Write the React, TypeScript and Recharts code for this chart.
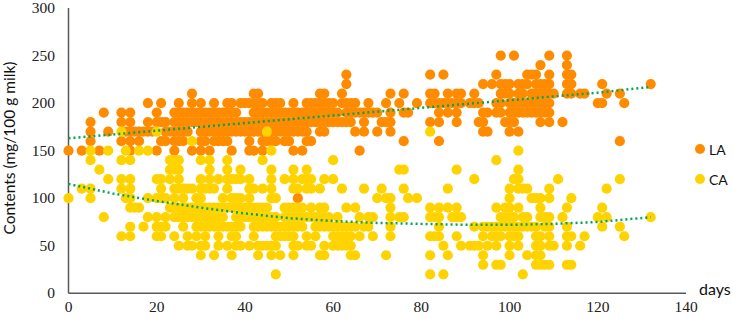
import { ScatterChart, Scatter, XAxis, YAxis, Label } from 'recharts';

const xTicks = [0, 20, 40, 60, 80, 100, 120, 140];
const yTicks = [0, 50, 100, 150, 200, 250, 300];

// LA: days seen at each contents level
const la100 = [52];
const la150 = [0, 3, 7, 14, 20, 24, 28, 30, 32, 37, 41, 42, 44, 51, 53, 66];
const la160 = [5, 12, 14, 16, 21, 22, 24, 25, 26, 30, 31, 33, 34, 35, 36, 41, 44, 45, 46, 47, 49, 50, 54, 55, 76, 84, 125];
const la170 = [5, 9, 13, 14, 15, 16, 17, 18, 19, 22, 23, 24, 25, 26, 27, 30, 31, 32, 33, 34, 35, 36, 37, 38, 39, 40, 41, 42, 43, 44, 46, 47, 48, 49, 50, 51, 52, 53, 54, 57, 58, 65, 67, 70, 73, 94, 95, 100, 102];
const la180 = [5, 12, 14, 18, 20, 21, 22, 24, 25, 26, 27, 28, 29, 30, 31, 32, 33, 34, 35, 36, 37, 38, 39, 40, 41, 42, 43, 44, 45, 46, 47, 48, 49, 50, 51, 52, 53, 54, 55, 56, 57, 58, 59, 60, 61, 62, 63, 64, 67, 71, 72, 73, 82, 84, 88, 93, 94, 99, 100, 101, 107, 109, 112];
const la190 = [8, 12, 14, 20, 24, 25, 26, 27, 28, 29, 30, 31, 32, 33, 34, 35, 36, 37, 38, 42, 43, 44, 45, 46, 47, 48, 49, 50, 51, 52, 53, 54, 55, 56, 57, 58, 59, 60, 61, 63, 64, 65, 66, 67, 68, 69, 70, 73, 76, 77, 84, 86, 88, 94, 95, 97, 98, 100, 101, 102, 103, 104, 105, 106, 107, 108, 109];
const la200 = [18, 21, 25, 28, 30, 33, 36, 37, 39, 40, 41, 42, 43, 44, 46, 47, 48, 51, 54, 55, 56, 57, 58, 59, 60, 62, 63, 64, 65, 68, 72, 75, 79, 82, 83, 84, 85, 86, 87, 88, 89, 91, 92, 93, 97, 98, 100, 101, 102, 103, 104, 105, 106, 107, 108, 109, 120, 121, 126];
const la210 = [28, 42, 43, 57, 58, 62, 73, 76, 82, 83, 86, 88, 89, 92, 98, 99, 100, 102, 103, 105, 106, 107, 108, 109, 110, 113, 114, 116, 117, 122, 125];
const la220 = [63, 94, 96, 98, 99, 100, 102, 103, 104, 106, 107, 108, 109, 113, 114, 121, 132];
const la230 = [63, 82, 85, 97, 104, 105, 106, 109, 113, 114];
const la240 = [107, 113];
const la250 = [98, 101, 109, 113];

// CA: days seen at each contents level
const ca20 = [47, 82, 85, 103];
const ca30 = [94, 97, 98, 106, 107, 108, 109, 113, 114];
const ca40 = [30, 33, 37, 43, 46, 48, 51, 57, 58, 64, 65, 72, 82, 86, 94, 100, 104, 106, 107];
const ca50 = [25, 27, 28, 30, 31, 34, 36, 38, 39, 41, 43, 44, 45, 46, 47, 51, 52, 54, 55, 58, 60, 61, 62, 63, 64, 85, 89, 91, 92, 93, 95, 97, 100, 102, 106, 107, 109, 110, 113, 116];
const ca60 = [12, 14, 20, 21, 24, 27, 29, 31, 34, 37, 38, 42, 47, 48, 49, 50, 51, 54, 56, 60, 61, 62, 63, 64, 66, 69, 73, 82, 83, 84, 88, 94, 96, 97, 98, 100, 101, 102, 106, 107, 109, 113, 114, 117, 126];
const ca70 = [14, 17, 20, 21, 22, 26, 29, 30, 31, 32, 33, 34, 35, 36, 37, 38, 39, 42, 43, 44, 45, 46, 47, 48, 49, 50, 51, 52, 53, 56, 57, 58, 59, 60, 61, 62, 63, 64, 65, 67, 68, 73, 84, 92, 94, 95, 96, 97, 98, 99, 100, 101, 102, 103, 104, 105, 106, 108, 109, 113, 121, 125];
const ca80 = [8, 18, 20, 22, 24, 25, 26, 27, 28, 29, 30, 31, 32, 33, 34, 35, 38, 39, 40, 41, 42, 43, 44, 45, 46, 47, 49, 50, 51, 52, 53, 54, 55, 56, 57, 58, 59, 61, 66, 68, 69, 73, 75, 76, 82, 83, 84, 87, 88, 89, 98, 99, 100, 101, 103, 104, 107, 108, 109, 112, 120, 122, 132];
const ca90 = [14, 15, 16, 23, 24, 25, 26, 27, 28, 29, 30, 31, 32, 33, 34, 35, 36, 37, 38, 39, 40, 41, 42, 43, 44, 45, 49, 50, 51, 52, 53, 55, 57, 58, 63, 65, 73, 82, 84, 86, 88, 97, 99, 100, 102, 107, 113, 121];
const ca100 = [0, 5, 13, 14, 18, 20, 21, 22, 24, 26, 29, 30, 35, 37, 38, 39, 41, 46, 47, 70, 72, 73, 77, 79, 100, 105, 106, 107, 109, 114];
const ca110 = [3, 5, 12, 14, 21, 24, 25, 26, 27, 28, 30, 31, 32, 33, 36, 41, 42, 44, 46, 51, 52, 54, 55, 57, 62, 67, 71, 76, 86, 100, 102, 103, 104, 109, 122];
const ca120 = [9, 12, 14, 20, 21, 23, 25, 30, 32, 34, 36, 37, 38, 39, 41, 46, 49, 51, 53, 54, 55, 58, 60, 92, 101, 102, 111, 125];
const ca130 = [7, 23, 24, 25, 32, 36, 39, 46, 51, 54, 75, 76, 88, 102];
const ca140 = [5, 12, 14, 23, 24, 25, 30, 32, 36, 44, 60, 97];
const ca150 = [5, 9, 13, 16, 18, 46, 102];
const ca160 = [28];
const ca170 = [12, 20, 45, 82];

// dotted polynomial trend lines, read at a few days
const trendDays = [0, 10, 20, 30, 40, 50, 60, 70, 80, 90, 100, 110, 120, 132];
const laTrend = [163, 167, 171, 175, 179, 183, 187, 191, 195, 199, 203, 207, 211, 217];
const caTrend = [115, 105, 97, 90, 84, 79, 76, 74, 73, 72, 72, 73, 75, 80];

const LA_COLOR = '#FF8C00';
const CA_COLOR = '#FFD300';
const TREND_COLOR = '#00A651';
const AXIS_COLOR = '#595959';

const toPoints = (value: number, days: number[]) => days.map((day) => ({ day, value }));

const laData = [
  ...toPoints(100, la100), ...toPoints(150, la150), ...toPoints(160, la160), ...toPoints(170, la170),
  ...toPoints(180, la180), ...toPoints(190, la190), ...toPoints(200, la200), ...toPoints(210, la210),
  ...toPoints(220, la220), ...toPoints(230, la230), ...toPoints(240, la240), ...toPoints(250, la250),
];

const caData = [
  ...toPoints(20, ca20), ...toPoints(30, ca30), ...toPoints(40, ca40), ...toPoints(50, ca50),
  ...toPoints(60, ca60), ...toPoints(70, ca70), ...toPoints(80, ca80), ...toPoints(90, ca90),
  ...toPoints(100, ca100), ...toPoints(110, ca110), ...toPoints(120, ca120), ...toPoints(130, ca130),
  ...toPoints(140, ca140), ...toPoints(150, ca150), ...toPoints(160, ca160), ...toPoints(170, ca170),
];

const laTrendData = trendDays.map((day, i) => ({ day, value: laTrend[i] }));
const caTrendData = trendDays.map((day, i) => ({ day, value: caTrend[i] }));

const dot = (color: string) => (props: any) => <circle cx={props.cx} cy={props.cy} r={5.1} fill={color} />;
const noDot = () => null;

const trendLine = { stroke: TREND_COLOR, strokeWidth: 2.5, strokeDasharray: '2 3' };
const serifFont = '"Liberation Serif", serif';
const sansFont = 'Lato, "Open Sans", sans-serif';

const XTick = (props: any) => (
  <text x={props.x} y={props.y + 11} textAnchor="middle" fontSize={15.5} fontFamily={serifFont} fill="#222">
    {props.payload.value}
  </text>
);

const YTick = (props: any) => (
  <text x={55} y={props.y} dy={5} textAnchor="end" fontSize={15.5} fontFamily={serifFont} fill="#222">
    {props.payload.value}
  </text>
);

const legendItems = [
  { name: 'LA', color: LA_COLOR, top: 140 },
  { name: 'CA', color: CA_COLOR, top: 170 },
];

export default function App() {
  return (
    <div style={{ position: 'absolute', left: 0, top: 0, width: 733, height: 319, background: '#fff' }}>
      <ScatterChart width={733} height={319} margin={{ top: 8, right: 47, bottom: 0, left: 0 }}>
        <XAxis
          type="number"
          dataKey="day"
          domain={[0, 140]}
          ticks={xTicks}
          height={25.7}
          tickLine={false}
          tick={XTick}
          stroke={AXIS_COLOR}
          strokeWidth={1.5}
          interval={0}
        >
          <Label
            value="days"
            content={() => (
              <text x={699} y={295} fontSize={16} fontFamily={sansFont} fill="#111">days</text>
            )}
          />
        </XAxis>
        <YAxis
          type="number"
          dataKey="value"
          domain={[0, 300]}
          ticks={yTicks}
          width={68.5}
          tickLine={false}
          tick={YTick}
          stroke={AXIS_COLOR}
          strokeWidth={1.5}
          interval={0}
        >
          <Label
            value="Contents (mg/100 g milk)"
            content={() => (
              <text x={15} y={148} fontSize={15.5} fontFamily={sansFont} fill="#111" textAnchor="middle" transform="rotate(-90 15 148)">
                Contents (mg/100 g milk)
              </text>
            )}
          />
        </YAxis>
        <Scatter name="LA" data={laData} fill={LA_COLOR} shape={dot(LA_COLOR)} isAnimationActive={false} />
        <Scatter name="CA" data={caData} fill={CA_COLOR} shape={dot(CA_COLOR)} isAnimationActive={false} />
        <Scatter data={laTrendData} line={trendLine} lineType="joint" shape={noDot} isAnimationActive={false} />
        <Scatter data={caTrendData} line={trendLine} lineType="joint" shape={noDot} isAnimationActive={false} />
      </ScatterChart>
      {legendItems.map((item) => (
        <div key={item.name} style={{ position: 'absolute', left: 695, top: item.top, display: 'flex', alignItems: 'center', height: 18 }}>
          <span style={{ width: 10, height: 10, borderRadius: 5, background: item.color, marginRight: 4 }} />
          <span style={{ fontFamily: sansFont, fontSize: 14, color: '#111' }}>{item.name}</span>
        </div>
      ))}
    </div>
  );
}
